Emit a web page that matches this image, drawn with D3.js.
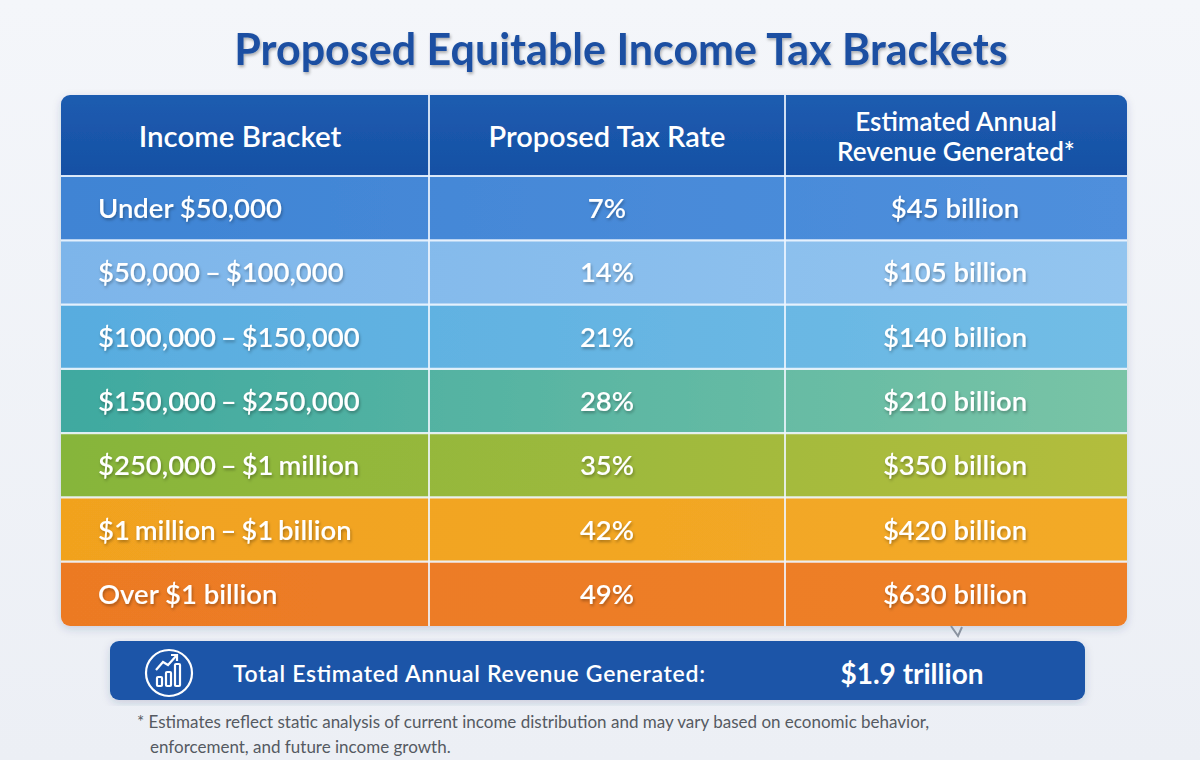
<!DOCTYPE html>
<html><head><meta charset="utf-8">
<script src="https://cdn.jsdelivr.net/npm/d3@7"></script>
<style>
html,body{margin:0;padding:0;background:#f1f4f9;}
svg{display:block;font-family:Lato,"Open Sans",sans-serif;}
</style></head>
<body>
<svg id="chart" width="1200" height="760"></svg>
<script>
const title = "Proposed Equitable Income Tax Brackets";
const headers = ["Income Bracket", "Proposed Tax Rate", ["Estimated Annual", "Revenue Generated*"]];
const brackets = ["Under $50,000", "$50,000 – $100,000", "$100,000 – $150,000", "$150,000 – $250,000", "$250,000 – $1 million", "$1 million – $1 billion", "Over $1 billion"];
const taxRates = [7, 14, 21, 28, 35, 42, 49];
const revenueBillions = [45, 105, 140, 210, 350, 420, 630];
const rowColorsLeft  = ["#3f84d4", "#7db5ea", "#58acdf", "#3fa9a0", "#86b53a", "#f1a21f", "#ec7a24"];
const rowColorsRight = ["#4f8fdc", "#93c5ef", "#72bde6", "#79c4a6", "#b3bd3e", "#f3aa28", "#ee8028"];
const totalLabel = "Total Estimated Annual Revenue Generated:";
const totalValue = "$1.9 trillion";
const footnote = ["* Estimates reflect static analysis of current income distribution and may vary based on economic behavior,",
                  "enforcement, and future income growth."];

const svg = d3.select("#chart");
const defs = svg.append("defs");

// background
const bg = defs.append("linearGradient").attr("id","bg").attr("x1",0).attr("y1",0).attr("x2",0).attr("y2",1);
bg.append("stop").attr("offset",0).attr("stop-color","#f4f6fa");
bg.append("stop").attr("offset",1).attr("stop-color","#eceff5");
svg.append("rect").attr("width",1200).attr("height",760).attr("fill","url(#bg)");

const shadow = defs.append("filter").attr("id","ts").attr("x","-10%").attr("y","-30%").attr("width","120%").attr("height","160%");
shadow.append("feDropShadow").attr("dx",1).attr("dy",2).attr("stdDeviation",1.5).attr("flood-color","#000").attr("flood-opacity",0.3);
const boxShadow = defs.append("filter").attr("id","bs").attr("x","-5%").attr("y","-5%").attr("width","110%").attr("height","115%");
boxShadow.append("feDropShadow").attr("dx",0).attr("dy",3).attr("stdDeviation",4).attr("flood-color","#1a3a6a").attr("flood-opacity",0.18);

// title
svg.append("text").attr("x",621).attr("y",65).attr("text-anchor","middle")
  .attr("font-size",43).attr("font-weight",700).attr("fill","#1c50a2")
  .attr("filter","url(#ts)").text(title);

// table geometry
const tableX0 = 61, tableX1 = 1127, tableY0 = 95, headerH = 81, tableY1 = 626;
const colEdges = [tableX0, 429, 785, tableX1];
const y = d3.scaleBand().domain(d3.range(brackets.length)).range([tableY0 + headerH, tableY1]).paddingInner(0);

const clip = defs.append("clipPath").attr("id","tclip");
clip.append("rect").attr("x",tableX0).attr("y",tableY0).attr("width",tableX1-tableX0).attr("height",tableY1-tableY0).attr("rx",9);

const table = svg.append("g").attr("filter","url(#bs)");
const tg = table.append("g").attr("clip-path","url(#tclip)");

// header
const hg = defs.append("linearGradient").attr("id","hg").attr("x1",0).attr("y1",0).attr("x2",0).attr("y2",1);
hg.append("stop").attr("offset",0).attr("stop-color","#1d5cb0");
hg.append("stop").attr("offset",1).attr("stop-color","#1650a4");
tg.append("rect").attr("x",tableX0).attr("y",tableY0).attr("width",tableX1-tableX0).attr("height",headerH).attr("fill","url(#hg)");

// row gradients
brackets.forEach((b,i)=>{
  const g = defs.append("linearGradient").attr("id","rg"+i).attr("x1",0).attr("y1",0).attr("x2",1).attr("y2",0);
  g.append("stop").attr("offset",0).attr("stop-color",rowColorsLeft[i]);
  g.append("stop").attr("offset",1).attr("stop-color",rowColorsRight[i]);
});
tg.selectAll("rect.row").data(brackets).join("rect").attr("class","row")
  .attr("x",tableX0).attr("y",(d,i)=>y(i)).attr("width",tableX1-tableX0).attr("height",y.bandwidth())
  .attr("fill",(d,i)=>"url(#rg"+i+")");

// grid lines
tg.selectAll("line.h").data(d3.range(brackets.length)).join("line").attr("class","h")
  .attr("x1",tableX0).attr("x2",tableX1).attr("y1",i=>y(i)).attr("y2",i=>y(i))
  .attr("stroke","#eef6ff").attr("stroke-width",2.2).attr("stroke-opacity",0.9);
tg.selectAll("line.v").data([colEdges[1], colEdges[2]]).join("line").attr("class","v")
  .attr("x1",d=>d).attr("x2",d=>d).attr("y1",tableY0).attr("y2",tableY1)
  .attr("stroke","#eef6ff").attr("stroke-width",2).attr("stroke-opacity",0.85);

// header text
const colCenter = i => (colEdges[i]+colEdges[i+1])/2;
svg.append("text").attr("x",colCenter(0)-5).attr("y",147).attr("text-anchor","middle")
  .attr("font-size",29.5).attr("font-weight",600).attr("fill","#fff").text(headers[0]);
svg.append("text").attr("x",colCenter(1)).attr("y",147).attr("text-anchor","middle")
  .attr("font-size",29).attr("font-weight",600).attr("fill","#fff").text(headers[1]);
headers[2].forEach((t,k)=>{
  svg.append("text").attr("x",colCenter(2)).attr("y",131+k*30).attr("text-anchor","middle")
    .attr("font-size",26).attr("font-weight",600).attr("fill","#fff").text(t);
});

// row text
const cells = svg.append("g").attr("fill","#fff").attr("font-size",27.5).attr("font-weight",600).attr("filter","url(#ts)");
cells.selectAll("text.b").data(brackets).join("text").attr("class","b")
  .attr("x",98).attr("y",(d,i)=>y(i)+y.bandwidth()/2+10)
  .attr("word-spacing",d=>d.includes("–")?-2:0).text(d=>d);
cells.selectAll("text.r").data(taxRates).join("text").attr("class","r")
  .attr("x",colCenter(1)).attr("text-anchor","middle")
  .attr("y",(d,i)=>y(i)+y.bandwidth()/2+10).text(d=>d+"%");
cells.selectAll("text.v").data(revenueBillions).join("text").attr("class","v")
  .attr("x",colCenter(2)-1).attr("text-anchor","middle")
  .attr("y",(d,i)=>y(i)+y.bandwidth()/2+10).text(d=>"$"+d+" billion");

// small pointer mark
svg.append("path").attr("d","M951,626 L958,636 L962,627").attr("fill","none").attr("stroke","#8a93a0").attr("stroke-width",2);

// total bar
const tot = svg.append("g").attr("filter","url(#bs)");
tot.append("rect").attr("x",110).attr("y",641).attr("width",975).attr("height",59).attr("rx",9).attr("fill","#1a55a8");
// icon
const ic = svg.append("g").attr("fill","none").attr("stroke","#fff").attr("stroke-width",2.2);
ic.append("circle").attr("cx",169).attr("cy",673).attr("r",23);
ic.append("rect").attr("x",157).attr("y",677).attr("width",5).attr("height",9).attr("rx",1);
ic.append("rect").attr("x",166).attr("y",672).attr("width",5).attr("height",14).attr("rx",1);
ic.append("rect").attr("x",175).attr("y",664).attr("width",5).attr("height",22).attr("rx",1);
ic.append("path").attr("d","M156,670 L163,662 L168,665 L177,655");
ic.append("path").attr("d","M171,655 L177,655 L177,661");
svg.append("text").attr("x",233).attr("y",682).attr("font-size",23).attr("font-weight",600).attr("fill","#fff")
  .attr("textLength",472).text(totalLabel);
svg.append("text").attr("x",912).attr("y",684).attr("text-anchor","middle").attr("font-size",28).attr("font-weight",700).attr("fill","#fff").text(totalValue);

// footnote
footnote.forEach((t,k)=>{
  svg.append("text").attr("x",k===0?137:150).attr("y",728+k*25).attr("font-size",17).attr("fill","#555a62").text(t);
});
</script>
</body></html>
